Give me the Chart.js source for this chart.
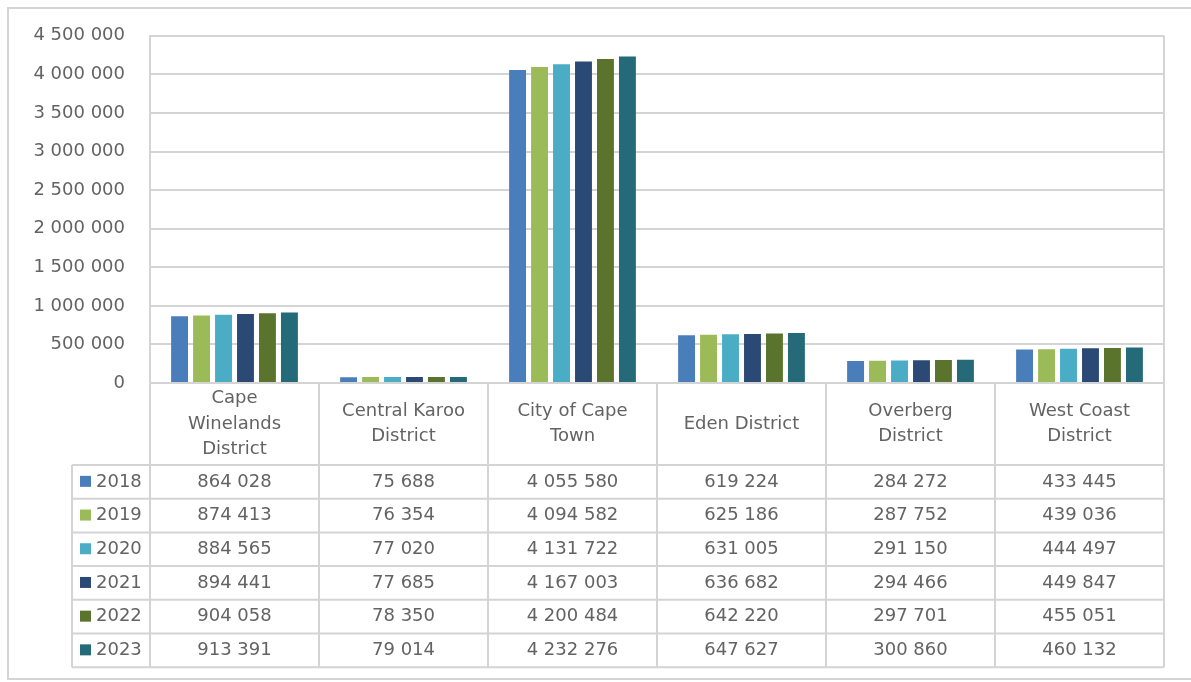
<!DOCTYPE html>
<html>
<head>
<meta charset="utf-8">
<script src="https://cdn.jsdelivr.net/npm/chart.js@4/dist/chart.umd.min.js"></script>
<style>
  html, body { margin: 0; padding: 0; background: #fff; }
  #wrap { width: 1191px; height: 682px; position: relative; }
</style>
</head>
<body>
<div id="wrap"><canvas id="c" width="1191" height="682"></canvas></div>
<script>
// Population by district, Western Cape, 2018–2023
const districts = [
  ['Cape', 'Winelands', 'District'],
  ['Central Karoo', 'District'],
  ['City of Cape', 'Town'],
  ['Eden District'],
  ['Overberg', 'District'],
  ['West Coast', 'District']
];
const years = ['2018', '2019', '2020', '2021', '2022', '2023'];
const pop2018 = [864028, 75688, 4055580, 619224, 284272, 433445];
const pop2019 = [874413, 76354, 4094582, 625186, 287752, 439036];
const pop2020 = [884565, 77020, 4131722, 631005, 291150, 444497];
const pop2021 = [894441, 77685, 4167003, 636682, 294466, 449847];
const pop2022 = [904058, 78350, 4200484, 642220, 297701, 455051];
const pop2023 = [913391, 79014, 4232276, 647627, 300860, 460132];
const yTicks = [0, 500000, 1000000, 1500000, 2000000, 2500000, 3000000, 3500000, 4000000, 4500000];

const seriesValues = [pop2018, pop2019, pop2020, pop2021, pop2022, pop2023];
const seriesColors = ['#4a7ebb', '#9bbb59', '#4bacc6', '#2a4a75', '#5b742d', '#256a79'];

const FONT = '"DejaVu Sans", sans-serif';
const TEXT = '#636363';
const LINE = '#d4d4d4';

const fmt = n => String(n).replace(/\B(?=(\d{3})+(?!\d))/g, ' ');

// Layout of the data table under the plot
const TABLE = { legendLeft: 72, headerBottom: 465, rowH: 33.7, labelLine: 25.5 };

const dataTablePlugin = {
  id: 'dataTable',
  afterDraw(chart) {
    const ctx = chart.ctx;
    const area = chart.chartArea;
    const xs = chart.scales.x;
    const n = districts.length;
    const colW = (area.right - area.left) / n;
    const tableBottom = TABLE.headerBottom + TABLE.rowH * years.length;

    ctx.save();
    ctx.strokeStyle = LINE;
    ctx.lineWidth = 2;

    // Outer frame of the chart object
    ctx.strokeRect(8, 8, 1300, 671);

    ctx.beginPath();
    // Plot side edges, running down through the table
    ctx.moveTo(area.right, area.top);
    ctx.lineTo(area.right, tableBottom);
    ctx.moveTo(area.left, area.top);
    ctx.lineTo(area.left, tableBottom);
    // Column separators inside the table
    for (let i = 1; i < n; i++) {
      const x = area.left + colW * i;
      ctx.moveTo(x, area.bottom);
      ctx.lineTo(x, tableBottom);
    }
    // Legend column left edge
    ctx.moveTo(TABLE.legendLeft, TABLE.headerBottom);
    ctx.lineTo(TABLE.legendLeft, tableBottom);
    // Row lines
    for (let r = 0; r <= years.length; r++) {
      const y = TABLE.headerBottom + TABLE.rowH * r;
      ctx.moveTo(TABLE.legendLeft, y);
      ctx.lineTo(area.right, y);
    }
    ctx.stroke();

    // Category header labels
    ctx.fillStyle = TEXT;
    ctx.font = '18px ' + FONT;
    ctx.textAlign = 'center';
    ctx.textBaseline = 'middle';
    const headMid = (area.bottom + TABLE.headerBottom) / 2;
    districts.forEach((lines, i) => {
      const cx = xs.getPixelForValue(i);
      const y0 = headMid - (lines.length - 1) * TABLE.labelLine / 2;
      lines.forEach((t, k) => ctx.fillText(t, cx, y0 + k * TABLE.labelLine));
    });

    // Data rows with legend keys
    ctx.font = '18px ' + FONT;
    years.forEach((yr, r) => {
      const cy = TABLE.headerBottom + TABLE.rowH * (r + 0.5);
      ctx.fillStyle = seriesColors[r];
      ctx.fillRect(80, cy - 6, 11, 11);
      ctx.fillStyle = TEXT;
      ctx.textAlign = 'left';
      ctx.fillText(yr, 96, cy);
      ctx.textAlign = 'center';
      seriesValues[r].forEach((v, i) => {
        ctx.fillText(fmt(v), xs.getPixelForValue(i), cy);
      });
    });
    ctx.restore();
  }
};

new Chart(document.getElementById('c'), {
  type: 'bar',
  data: {
    labels: districts,
    datasets: years.map((yr, i) => ({
      label: yr,
      data: seriesValues[i],
      backgroundColor: seriesColors[i],
      borderWidth: 0,
      categoryPercentage: 0.78,
      barPercentage: 0.77
    }))
  },
  options: {
    responsive: false,
    animation: false,
    devicePixelRatio: 1,
    layout: { padding: { left: 0, top: 35, right: 27, bottom: 291 } },
    plugins: { legend: { display: false }, tooltip: { enabled: false } },
    scales: {
      x: {
        ticks: { display: false },
        grid: { display: false },
        border: { display: true, color: LINE, width: 2 }
      },
      y: {
        min: 0,
        max: 4500000,
        afterBuildTicks(scale) { scale.ticks = yTicks.map(v => ({ value: v })); },
        afterFit(scale) { scale.width = 150; },
        ticks: {
          color: TEXT,
          font: { family: FONT, size: 18 },
          padding: 25,
          callback: v => fmt(v)
        },
        grid: { color: LINE, lineWidth: 2, drawTicks: false },
        border: { display: true, color: LINE, width: 2 }
      }
    }
  },
  plugins: [dataTablePlugin]
});
</script>
</body>
</html>
